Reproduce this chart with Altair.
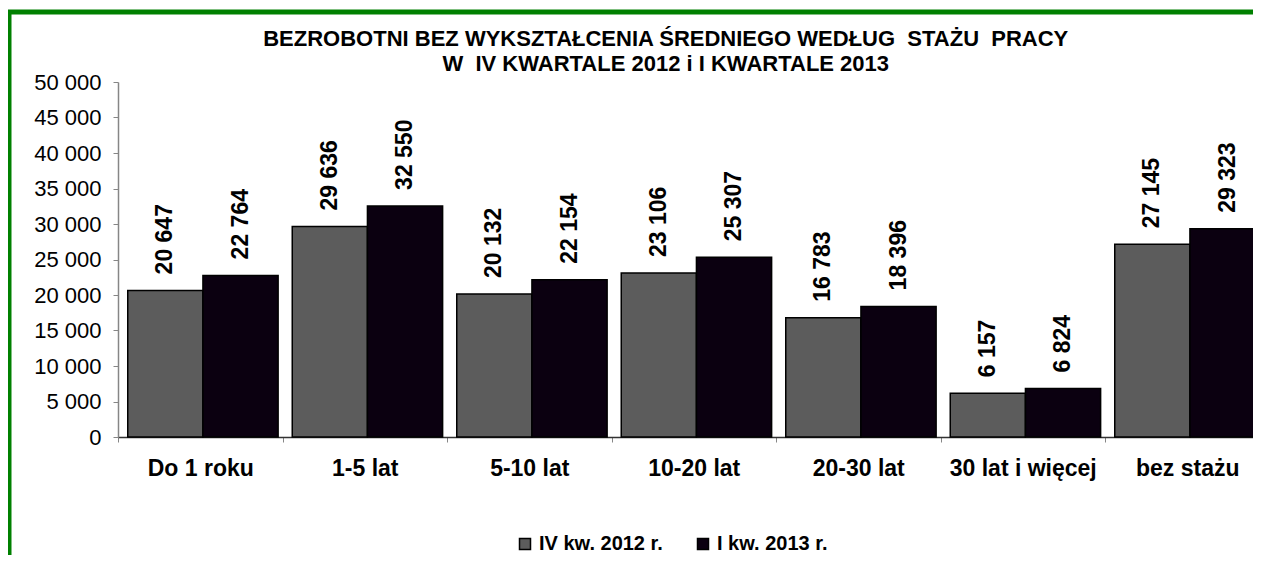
import altair as alt
import pandas as pd

categories = ["Do 1 roku", "1-5 lat", "5-10 lat", "10-20 lat", "20-30 lat", "30 lat i więcej", "bez stażu"]
series = ["IV kw. 2012 r.", "I kw. 2013 r."]
values_2012 = [20647, 29636, 20132, 23106, 16783, 6157, 27145]
values_2013 = [22764, 32550, 22154, 25307, 18396, 6824, 29323]
colors = ["#5c5c5c", "#0b0010"]
y_ticks = list(range(0, 50001, 5000))
title_lines = [
    "BEZROBOTNI BEZ WYKSZTAŁCENIA ŚREDNIEGO WEDŁUG\u00a0 STAŻU\u00a0 PRACY",
    "W\u00a0 IV KWARTALE 2012 i I KWARTALE 2013",
]

FONT = "Liberation Sans"

rows = []
for c, a, b in zip(categories, values_2012, values_2013):
    rows.append({"kat": c, "seria": series[0], "wartosc": a})
    rows.append({"kat": c, "seria": series[1], "wartosc": b})
df = pd.DataFrame(rows)

x_enc = alt.X(
    "kat:N",
    sort=categories,
    scale=alt.Scale(paddingInner=0, paddingOuter=0),
    axis=alt.Axis(
        title=None,
        labelAngle=0,
        labelFont=FONT,
        labelFontSize=23,
        labelFontWeight="bold",
        labelColor="#000000",
        labelPadding=15,
        tickBand="extent",
        tickSize=5,
        tickColor="#868686",
        domainColor="#333333",
        domainWidth=1.5,
        grid=False,
    ),
)
xoff_enc = alt.XOffset(
    "seria:N", sort=series, scale=alt.Scale(paddingInner=0, paddingOuter=0.094, align=0.69)
)
y_enc = alt.Y(
    "wartosc:Q",
    scale=alt.Scale(domain=[0, 50000], nice=False),
    axis=alt.Axis(
        title=None,
        values=y_ticks,
        labelExpr="replace(format(datum.value, ','), ',', ' ')",
        labelOverlap=False,
        labelFont=FONT,
        labelFontSize=22,
        labelColor="#000000",
        labelPadding=12,
        tickSize=5,
        tickColor="#868686",
        domainColor="#868686",
        domainWidth=1.5,
        grid=False,
    ),
)

base = alt.Chart(df)

bars = base.mark_bar(stroke="#000000", strokeWidth=1.5).encode(
    x=x_enc,
    xOffset=xoff_enc,
    y=y_enc,
    color=alt.Color(
        "seria:N",
        sort=series,
        scale=alt.Scale(domain=series, range=colors),
        legend=alt.Legend(
            title=None,
            orient="none",
            direction="horizontal",
            legendX=397,
            legendY=452,
            symbolType="square",
            symbolSize=121,
            symbolStrokeColor="#000000",
            symbolStrokeWidth=1.5,
            symbolOpacity=1,
            labelFont=FONT,
            labelFontSize=20,
            labelFontWeight="bold",
            labelColor="#000000",
            labelOffset=4,
            columnPadding=30,
            padding=0,
        ),
    ),
)

labels = base.transform_calculate(
    etykieta="replace(format(datum.wartosc, ','), ',', ' ')"
).mark_text(
    angle=270,
    align="left",
    baseline="middle",
    dx=16,
    font=FONT,
    fontSize=23,
    fontWeight="bold",
    color="#000000",
).encode(
    x=x_enc,
    xOffset=xoff_enc,
    y=y_enc,
    text="etykieta:N",
)

frame = alt.Chart(alt.Data(values=[{"f": 1}])).mark_rect(
    filled=False, stroke="#008000", strokeWidth=5
).encode(
    x=alt.value(-109), x2=alt.value(1500), y=alt.value(-70), y2=alt.value(800)
)

chart = (
    alt.layer(bars, labels, frame)
    .properties(
        width=1151.5,
        height=355,
        padding={"left": 110, "top": 74, "right": -16.5, "bottom": 118},
        autosize=alt.AutoSizeParams(type="none"),
        title=alt.TitleParams(
            text=title_lines,
            font=FONT,
            fontSize=22,
            fontWeight="bold",
            color="#000000",
            anchor="middle",
            dx=-28,
            dy=74,
            offset=8,
            lineHeight=25,
        ),
        background="#ffffff",
    )
    .configure_view(stroke=None)
    .configure_axis(labelOverlap=False)
)

chart.save("out.html", embed_options={"renderer": "svg", "actions": False})
